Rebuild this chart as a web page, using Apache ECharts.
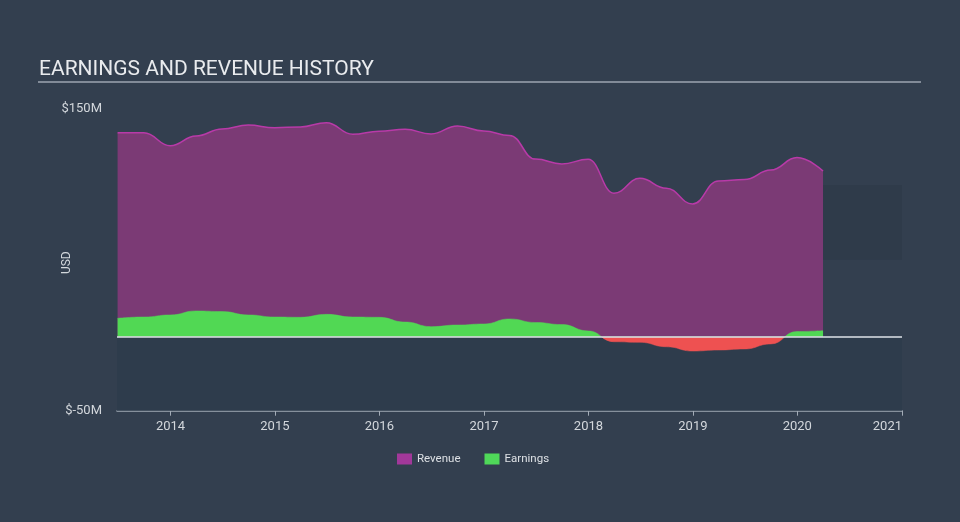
<!DOCTYPE html>
<html>
<head>
<meta charset="utf-8">
<script src="https://cdn.jsdelivr.net/npm/echarts@6/dist/echarts.min.js"></script>
<style>
html,body{margin:0;padding:0;background:#333f4f;}
#chart{width:960px;height:522px;}
</style>
</head>
<body>
<div id="chart"></div>
<script>
const quarters = ['2013-06-30','2013-09-30','2013-12-31','2014-03-31','2014-06-30','2014-09-30','2014-12-31',
  '2015-03-31','2015-06-30','2015-09-30','2015-12-31','2016-03-31','2016-06-30','2016-09-30','2016-12-31',
  '2017-03-31','2017-06-30','2017-09-30','2017-12-31','2018-03-31','2018-06-30','2018-09-30','2018-12-31',
  '2019-03-31','2019-06-30','2019-09-30','2019-12-31','2020-03-31'];
const revenue = [137.8,137.8,129.0,135.6,140.3,143.0,141.2,141.7,144.6,136.8,138.9,140.1,137.0,142.4,139.0,
  136.0,120.0,116.7,119.9,96.9,107.0,100.3,89.7,105.2,106.2,112.6,121.0,112.0];
const earnings = [12.4,13.3,14.7,17.4,17.0,14.7,13.3,13.1,15.1,13.3,13.1,9.9,6.8,7.9,8.6,
  12.0,9.6,8.2,3.9,-3.4,-3.8,-6.8,-9.7,-9.0,-8.3,-4.9,3.5,4.1];
const yTickLabels = {'-50':'$-50M','150':'$150M'};
const xMin = '2013-06-28', xMax = '2021-01-01';
const forecastBand = {start:'2020-03-31', end:'2021-01-01', low:52, high:102.5};

const chart = echarts.init(document.getElementById('chart'), null, {renderer:'canvas'});
const font = 'Roboto, "Noto Sans", sans-serif';
const option = {
  backgroundColor:'#333f4f',
  animation:false,
  textStyle:{fontFamily:font},
  title:{text:'EARNINGS AND REVENUE HISTORY', left:34, top:54,
    textStyle:{color:'#e9ebee', fontSize:21, fontWeight:'normal', fontFamily:font}},
  graphic:[{type:'line', shape:{x1:38,y1:82,x2:921,y2:82}, style:{stroke:'#9ea6b0', lineWidth:1.5}}],
  legend:{bottom:52, left:392, itemWidth:15, itemHeight:11, itemGap:24,
    icon:'rect',
    textStyle:{color:'#dde0e4', fontSize:11.5, fontFamily:font},
    data:[{name:'Revenue', itemStyle:{color:'#a2389a'}}, {name:'Earnings', itemStyle:{color:'#4fd859'}}]},
  grid:{left:117, right:58, top:114.7, bottom:111.3},
  xAxis:{type:'time', min:xMin, max:xMax,
    minInterval:365*24*3600*1000, maxInterval:366*24*3600*1000,
    axisLine:{show:true, onZero:false, lineStyle:{color:'#a3acb7', width:1.5}},
    axisTick:{show:true, length:5, lineStyle:{color:'#a3acb7'}},
    splitLine:{show:false},
    axisLabel:{color:'#d3d7dc', fontSize:13, margin:10, formatter:'{yyyy}', alignMaxLabel:'right',
      showMinLabel:false, showMaxLabel:true}},
  yAxis:{type:'value', min:-50, max:150, interval:50,
    name:'USD', nameLocation:'middle', nameGap:44, nameRotate:90, nameMoveOverlap:false,
    nameTextStyle:{color:'#d3d7dc', fontSize:12},
    axisLine:{show:false}, axisTick:{show:false}, splitLine:{show:false},
    axisLabel:{color:'#d3d7dc', fontSize:13, margin:15,
      formatter:function(v){ const t = yTickLabels[String(v)]; if(!t) return ''; return v>0 ? '{up|'+t+'}' : t; },
      rich:{up:{color:'#d3d7dc', fontSize:13, padding:[0,0,12,0]}}}},
  visualMap:{show:false, type:'piecewise', seriesIndex:2, dimension:1,
    pieces:[{gt:0, lte:500, color:'#51d854'}, {gte:-500, lte:0, color:'#ee5151'}]},
  series:[
    {name:'bg', type:'line', data:[], z:1, silent:true,
      markArea:{silent:true, itemStyle:{color:'#2e3c4c'}, data:[
        [{xAxis:xMin, yAxis:-50},{xAxis:xMax, yAxis:0}],
        [{xAxis:forecastBand.start, yAxis:forecastBand.low, itemStyle:{color:'#2f3b4a'}},{xAxis:forecastBand.end, yAxis:forecastBand.high}]
      ]},
      markLine:{silent:true, symbol:'none', label:{show:false}, lineStyle:{color:'#dfe3e8', width:1.5, type:'solid'},
        data:[{yAxis:0}]}},
    {name:'Revenue', type:'line', z:3, smooth:0.45, smoothMonotone:'x', showSymbol:false,
      data:quarters.map((d,i)=>[d,revenue[i]]),
      itemStyle:{color:'#a2389a'},
      lineStyle:{color:'#b83aa8', width:1.5},
      areaStyle:{color:'#7b3a75', opacity:1}},
    {name:'Earnings', type:'line', z:4, smooth:0.5, smoothMonotone:'x', showSymbol:false,
      data:quarters.map((d,i)=>[d,earnings[i]]),
      itemStyle:{color:'#4fd859'},
      lineStyle:{width:0.5},
      areaStyle:{opacity:1}}
  ]
};
chart.setOption(option);
</script>
</body>
</html>
